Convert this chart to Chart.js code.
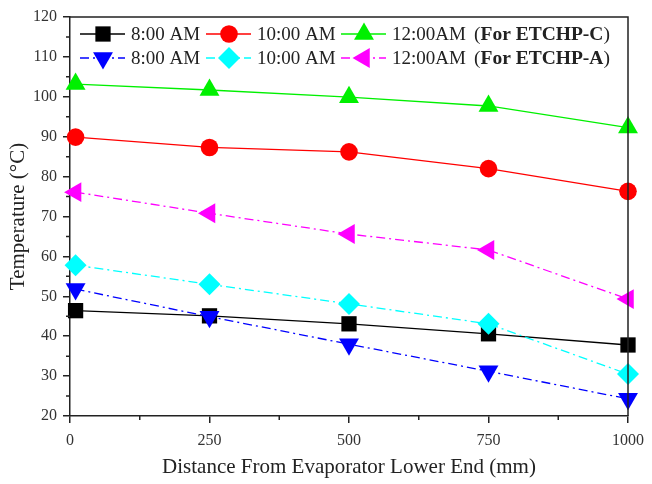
<!DOCTYPE html>
<html>
<head>
<meta charset="UTF-8">
<title>Temperature along evaporator</title>
<script src="https://cdn.jsdelivr.net/npm/chart.js@4"></script>
<style>body{margin:0;background:#fff}</style>
</head>
<body>
<canvas id="myChart" width="652" height="484"></canvas>
<script>
// distance from evaporator lower end (mm)
var distance = [10, 250, 500, 750, 1000]
// ETCHP-C
var c8am  = [46.4, 45.1, 43.1, 40.6, 37.8]
var c10am = [89.9, 87.3, 86.2, 82.0, 76.3]
var c12am = [103.2, 101.7, 99.9, 97.7, 92.3]
// ETCHP-A
var a8am  = [51.8, 44.9, 38.0, 31.2, 24.3]
var a10am = [57.8, 53.0, 48.1, 43.1, 30.5]
var a12am = [76.1, 70.8, 65.6, 61.6, 49.3]

var seriesNames = ['8:00 AM', '10:00 AM', '12:00AM', '8:00 AM', '10:00 AM', '12:00AM']
var groupNames = ['For ETCHP-C', 'For ETCHP-A']
var xTicks = [0, 250, 500, 750, 1000]
var xMinor = [125, 375, 625, 875]
var yTicks = [20, 30, 40, 50, 60, 70, 80, 90, 100, 110, 120]
var yMinor = [25, 35, 45, 55, 65, 75, 85, 95, 105, 115]

var serif = '"Liberation Serif", "Times New Roman", serif'
Chart.defaults.font.family = serif

function pts(vals) {
    return vals.map(function(v, i) { return {x: distance[i], y: v} })
}

var dashDot = [9, 4, 2, 4]
function series(label, vals, color, style, rot, r, dash, order) {
    return {
        label: label,
        data: pts(vals),
        borderColor: color,
        backgroundColor: color,
        pointBackgroundColor: color,
        pointBorderColor: color,
        pointBorderWidth: 0,
        pointStyle: style,
        pointRotation: rot,
        pointRadius: r,
        pointHoverRadius: r,
        borderWidth: 1.3,
        borderDash: dash,
        tension: 0,
        clip: false,
        order: order
    }
}

var datasets = [
    series(seriesNames[0], c8am, '#000000', 'rect', 0, 10.8, [], 6),
    series(seriesNames[1], c10am, '#ff0000', 'circle', 0, 8.8, [], 5),
    series(seriesNames[2], c12am, '#00f000', 'triangle', 0, 11.5, [], 4),
    series(seriesNames[3], a8am, '#0000ff', 'triangle', 180, 11.5, dashDot, 3),
    series(seriesNames[4], a10am, '#00ffff', 'rectRot', 0, 11, dashDot, 2),
    series(seriesNames[5], a12am, '#ff00ff', 'triangle', 270, 11.5, dashDot, 1)
]

// frame, minor ticks and the two-row legend
var extras = {
    id: 'extras',
    afterDraw: function(chart) {
        var ctx = chart.ctx
        var a = chart.chartArea
        var xs = chart.scales.x, ys = chart.scales.y
        ctx.save()
        ctx.strokeStyle = '#222'
        ctx.lineWidth = 1.5
        ctx.beginPath()
        ctx.moveTo(a.left, a.top); ctx.lineTo(a.right, a.top); ctx.lineTo(a.right, a.bottom)
        xMinor.forEach(function(v) {
            var px = xs.getPixelForValue(v)
            ctx.moveTo(px, a.bottom); ctx.lineTo(px, a.bottom + 4)
        })
        yMinor.forEach(function(v) {
            var py = ys.getPixelForValue(v)
            ctx.moveTo(a.left, py); ctx.lineTo(a.left - 4, py)
        })
        ctx.stroke()

        var rows = [34, 58]
        var sampleX = [80, 206, 341]
        var textX = [131, 257, 392]
        ctx.font = '19px ' + serif
        ctx.textBaseline = 'middle'
        chart.data.datasets.forEach(function(ds, i) {
            var row = Math.floor(i / 3), col = i % 3
            var y = rows[row]
            ctx.strokeStyle = ds.borderColor
            ctx.lineWidth = 1.3
            ctx.setLineDash(ds.borderDash)
            ctx.beginPath()
            ctx.moveTo(sampleX[col], y); ctx.lineTo(sampleX[col] + 45, y)
            ctx.stroke()
            ctx.setLineDash([])
            ctx.fillStyle = ds.pointBackgroundColor
            Chart.helpers.drawPoint(ctx, {
                pointStyle: ds.pointStyle, rotation: ds.pointRotation,
                radius: ds.pointRadius, borderWidth: 0
            }, sampleX[col] + 23, y)
            ctx.fillStyle = '#222'
            ctx.fillText(ds.label, textX[col], y + 1)
        })
        groupNames.forEach(function(g, row) {
            var x = 474, y = rows[row] + 1
            ctx.font = '19.5px ' + serif
            ctx.fillText('(', x, y)
            x += ctx.measureText('(').width
            ctx.font = 'bold 19.5px ' + serif
            ctx.fillText(g, x, y)
            x += ctx.measureText(g).width
            ctx.font = '19.5px ' + serif
            ctx.fillText(')', x, y)
        })
        ctx.restore()
    }
}

var ctx = document.getElementById('myChart').getContext('2d')
var chart = new Chart(ctx, {
    type: 'line',
    data: { datasets: datasets },
    plugins: [extras],
    options: {
        responsive: false,
        animation: false,
        layout: { padding: { top: 17, right: 20, left: 0, bottom: 0 } },
        plugins: { legend: { display: false }, tooltip: { enabled: false } },
        scales: {
            x: {
                type: 'linear', min: 0, max: 1000,
                afterFit: function(s) { s.height = 68 },
                afterBuildTicks: function(s) { s.ticks = xTicks.map(function(v) { return {value: v} }) },
                ticks: { padding: 8, color: '#333', font: { size: 16 }, maxRotation: 0,
                    callback: function(v) { return String(v) } },
                grid: { drawOnChartArea: false, tickLength: 7, color: '#222', lineWidth: 1.5 },
                border: { color: '#222', width: 1.5 },
                title: { display: true, text: 'Distance From Evaporator Lower End (mm)',
                    color: '#222', font: { size: 21 }, padding: { top: 0, bottom: 4 } }
            },
            y: {
                min: 20, max: 120,
                afterFit: function(s) { s.width = 70 },
                afterBuildTicks: function(s) { s.ticks = yTicks.map(function(v) { return {value: v} }) },
                ticks: { padding: 6, color: '#333', font: { size: 16 },
                    callback: function(v) { return String(v) } },
                grid: { drawOnChartArea: false, tickLength: 7, color: '#222', lineWidth: 1.5 },
                border: { color: '#222', width: 1.5 },
                title: { display: true, text: 'Temperature (°C)',
                    color: '#222', font: { size: 21 }, padding: { top: 6, bottom: 0 } }
            }
        }
    }
})
</script>
</body>
</html>
